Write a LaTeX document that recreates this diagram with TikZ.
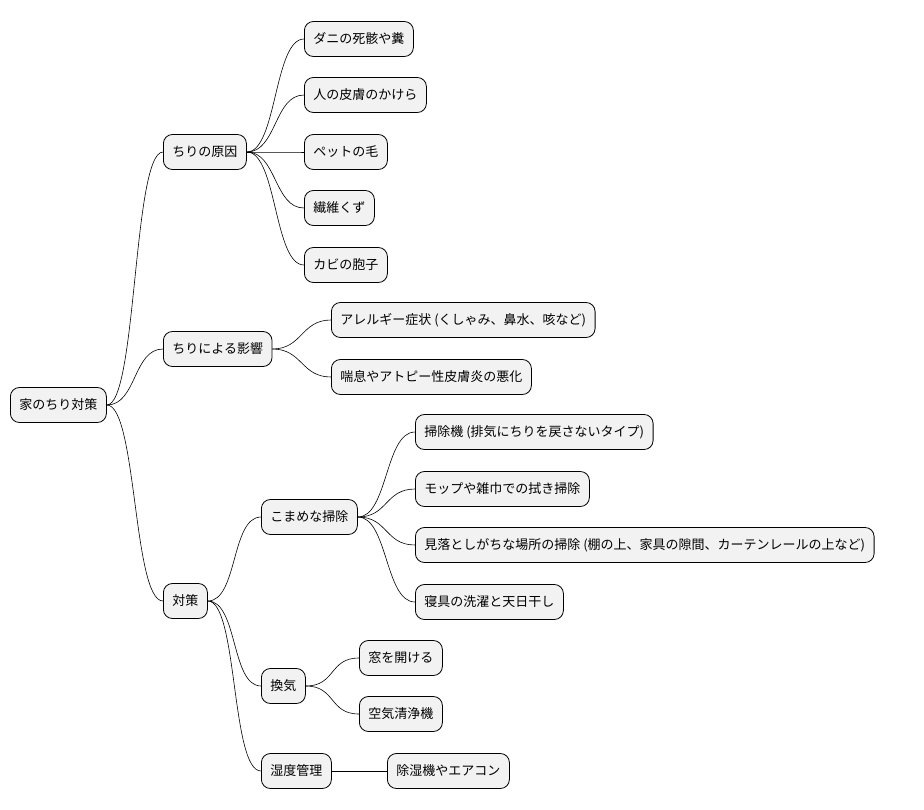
\documentclass[tikz,border=0pt]{standalone}
\usepackage{fontspec}
\setmainfont{Noto Sans CJK JP}
\begin{document}
\begin{tikzpicture}[x=1pt,y=-1pt,
  box/.style={draw=black,line width=0.8pt,fill=gray!10,rounded corners=9pt,anchor=west,minimum height=35pt,inner xsep=9pt,font=\fontsize{13}{15}\selectfont},
  lk/.style={draw=black,line width=0.6pt}]
\useasboundingbox (0,0) rectangle (924,809);
\node[box] (r) at (10,405) {家のちり対策};
\node[box] (a) at (163,152) {ちりの原因};
\node[box] (a1) at (304,39) {ダニの死骸や糞};
\node[box] (a2) at (304,95) {人の皮膚のかけら};
\node[box] (a3) at (304,152) {ペットの毛};
\node[box] (a4) at (304,208) {繊維くず};
\node[box] (a5) at (304,265) {カビの胞子};
\node[box] (b) at (163,349) {ちりによる影響};
\node[box] (b1) at (331,320) {アレルギー症状 (くしゃみ、鼻水、咳など)};
\node[box] (b2) at (331,377) {喘息やアトピー性皮膚炎の悪化};
\node[box] (c) at (163,601) {対策};
\node[box] (c1) at (261,517) {こまめな掃除};
\node[box] (c11) at (415,432) {掃除機 (排気にちりを戻さないタイプ)};
\node[box] (c12) at (415,489) {モップや雑巾での拭き掃除};
\node[box] (c13) at (415,545) {見落としがちな場所の掃除 (棚の上、家具の隙間、カーテンレールの上など)};
\node[box] (c14) at (415,602) {寝具の洗濯と天日干し};
\node[box] (c2) at (261,686) {換気};
\node[box] (c21) at (359,658) {窓を開ける};
\node[box] (c22) at (359,714) {空気清浄機};
\node[box] (c3) at (261,771) {湿度管理};
\node[box] (c31) at (387,771) {除湿機やエアコン};
\foreach \p/\c in {r/a,r/b,r/c,a/a1,a/a2,a/a3,a/a4,a/a5,b/b1,b/b2,c/c1,c/c2,c/c3,c1/c11,c1/c12,c1/c13,c1/c14,c2/c21,c2/c22,c3/c31}
  \draw[lk] (\p.east) .. controls +(30,0) and +(-30,0) .. (\c.west);
\end{tikzpicture}
\end{document}
